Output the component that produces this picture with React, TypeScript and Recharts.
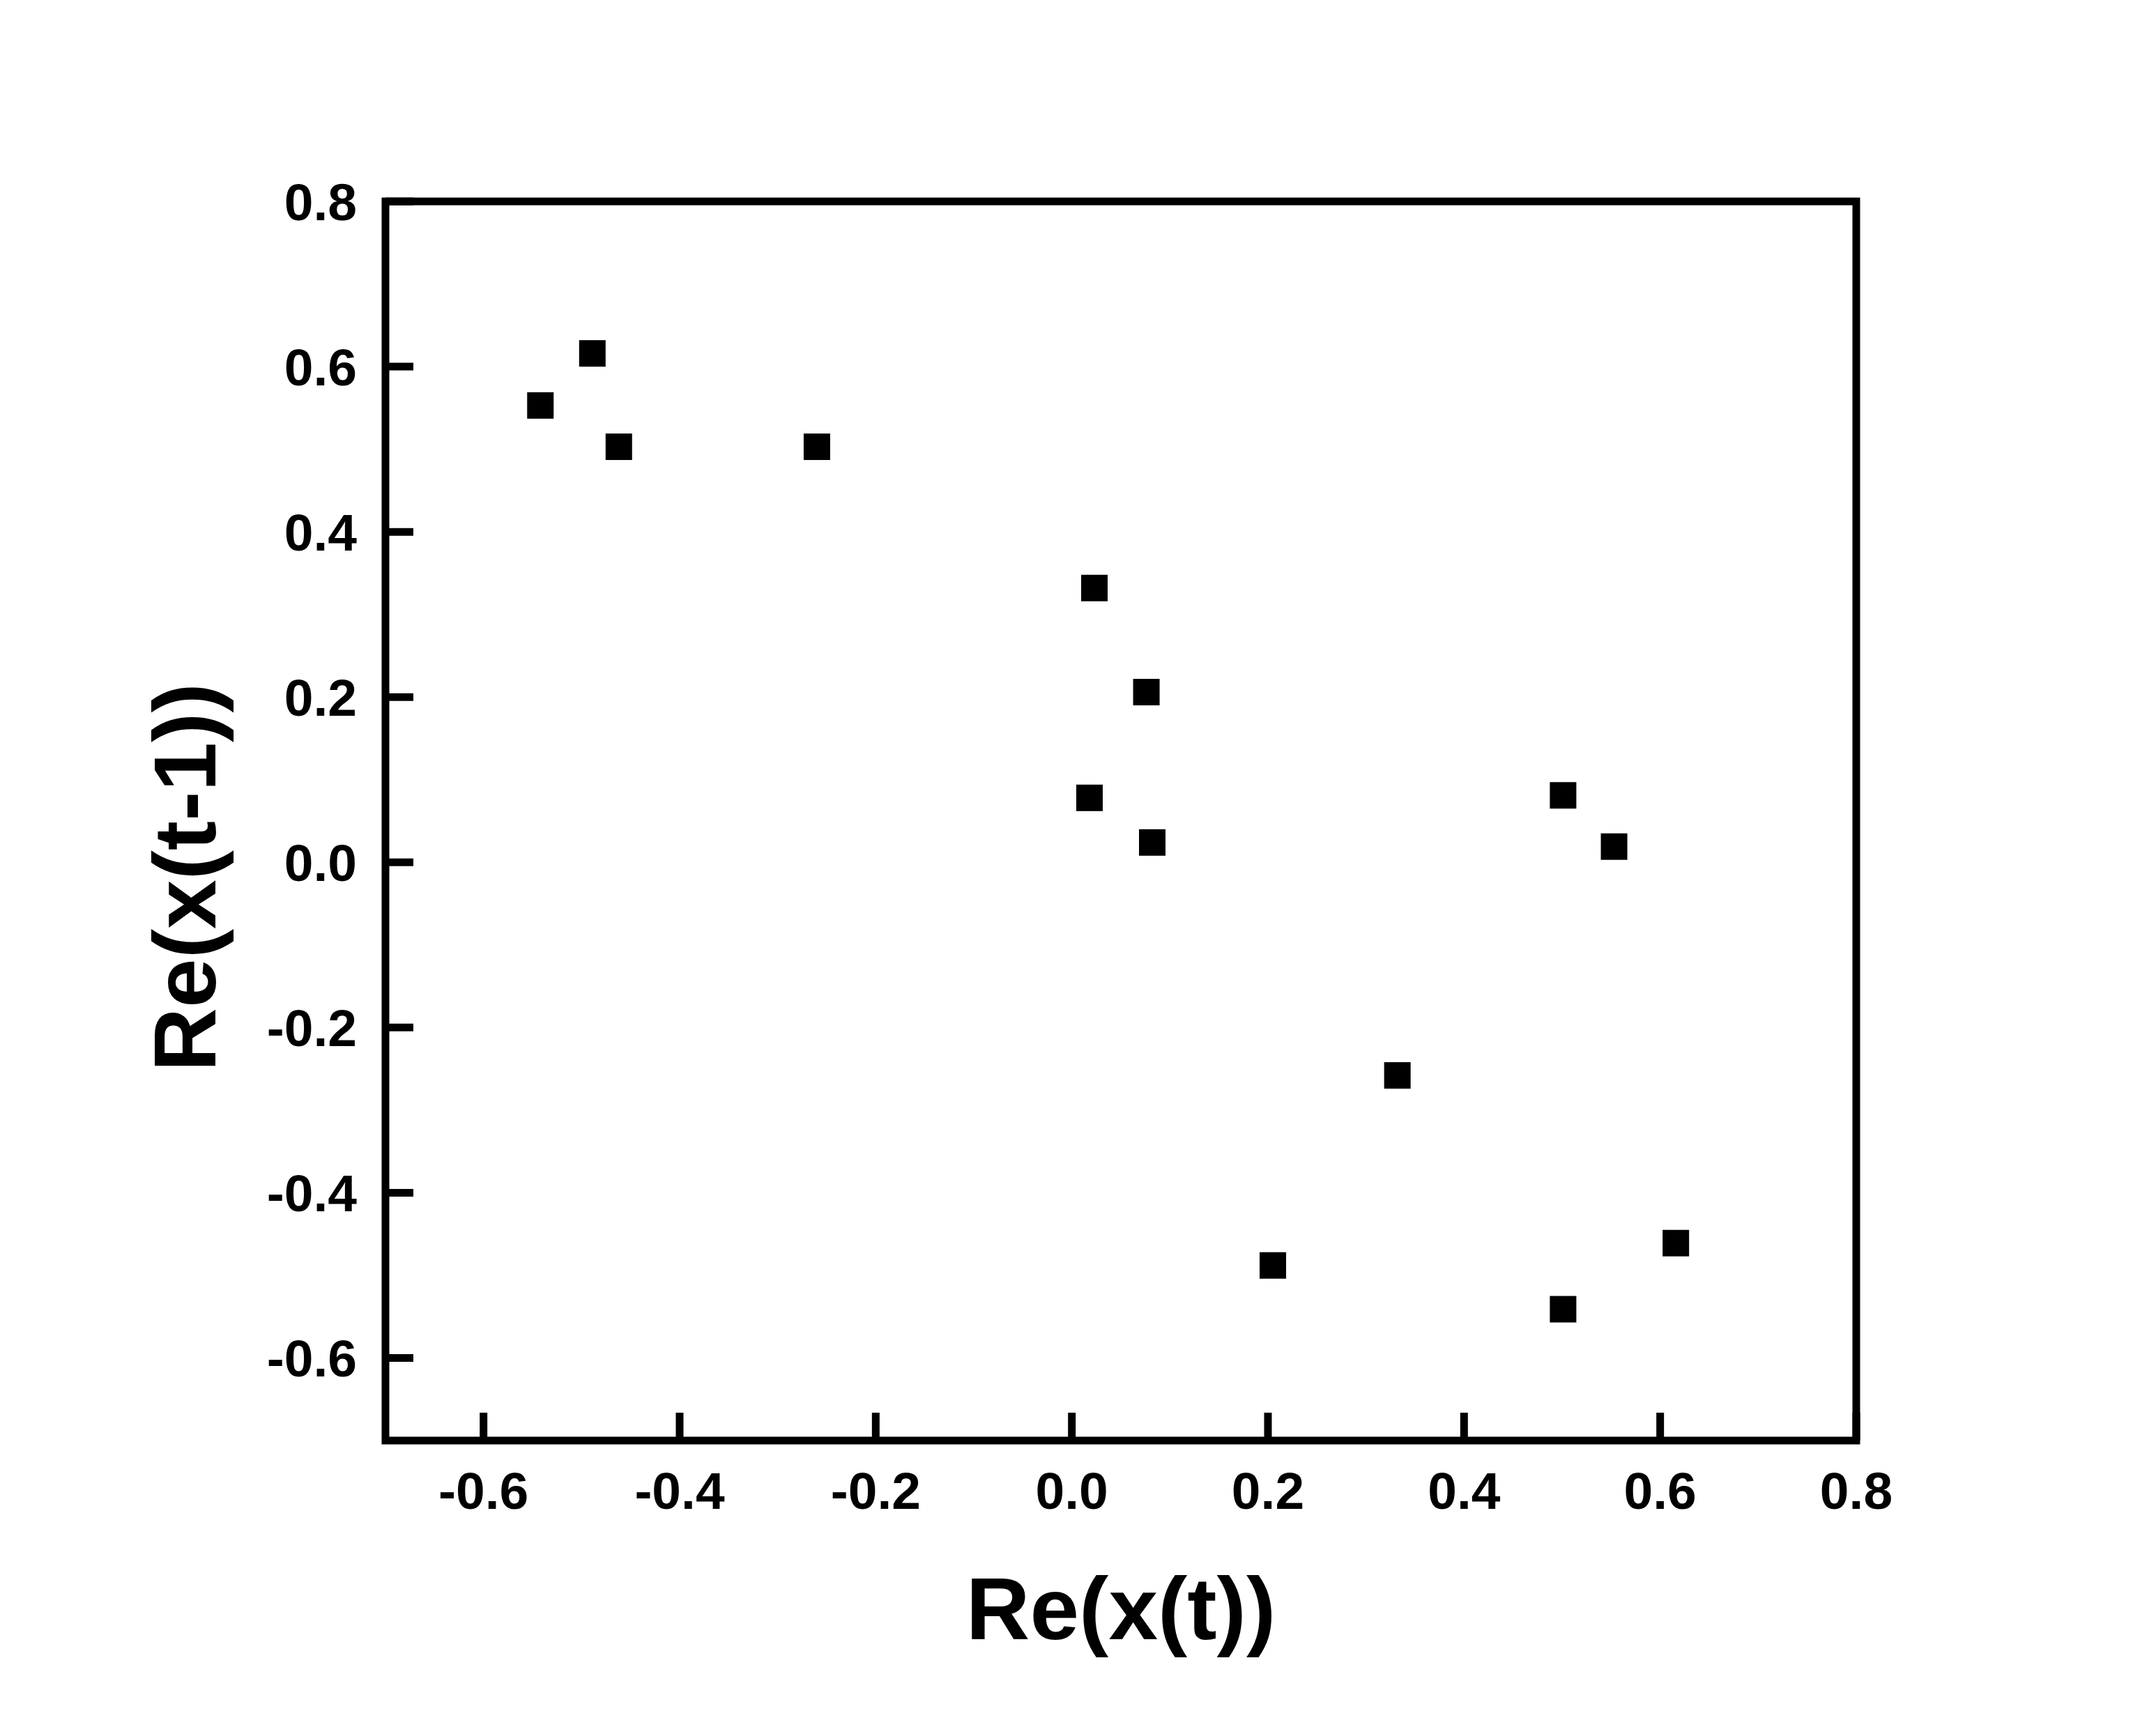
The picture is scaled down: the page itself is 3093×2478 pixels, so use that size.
import { ScatterChart, Scatter, XAxis, YAxis, ReferenceArea } from 'recharts';

// Re(x(t)) and Re(x(t-1))
const X_VALUES = [-0.542, -0.489, -0.462, -0.26, 0.023, 0.076, 0.018, 0.082, 0.501, 0.553, 0.332, 0.205, 0.501, 0.616];
const Y_VALUES = [0.553, 0.616, 0.503, 0.503, 0.332, 0.206, 0.078, 0.024, 0.081, 0.019, -0.258, -0.488, -0.541, -0.461];

const X_TICKS = [-0.6, -0.4, -0.2, 0, 0.2, 0.4, 0.6, 0.8];
const Y_TICKS = [-0.6, -0.4, -0.2, 0, 0.2, 0.4, 0.6, 0.8];
const DOMAIN: [number, number] = [-0.7, 0.8];

const data = X_VALUES.map((x, i) => ({ x, y: Y_VALUES[i] }));

const FONT = '"Liberation Sans", Arial, sans-serif';
const W = 3077;
const H = 2462;

const tickStyle = { fontSize: 75, fontWeight: 700, fill: '#000', fontFamily: FONT };

function XTitle(props: any) {
  const vb = props.viewBox;
  return (
    <text
      x={vb.x + vb.width / 2}
      y={vb.y + 285}
      textAnchor="middle"
      fontSize={127}
      fontWeight={700}
      fontFamily={FONT}
      fill="#000"
    >
      Re(x(t))
    </text>
  );
}

function YTitle(props: any) {
  const vb = props.viewBox;
  const x = vb.x + 56;
  const y = vb.y + vb.height / 2 + 81;
  return (
    <text
      x={x}
      y={y}
      transform={`rotate(-90, ${x}, ${y})`}
      textAnchor="middle"
      fontSize={127}
      fontWeight={700}
      fontFamily={FONT}
      fill="#000"
    >
      Re(x(t-1))
    </text>
  );
}

const Square = (props: any) => {
  const { cx, cy } = props;
  return <rect x={cx - 19} y={cy - 19} width={38} height={38} fill="#000" />;
};

export default function App() {
  return (
    <div style={{ width: W, height: H, background: '#fff' }}>
      <ScatterChart width={W} height={H} margin={{ top: 281, right: 422, bottom: 103, left: 245 }}>
        <XAxis
          type="number"
          dataKey="x"
          domain={DOMAIN}
          ticks={X_TICKS}
          allowDataOverflow
          height={300}
          axisLine={false}
          tickSize={-40}
          tickMargin={85}
          tickLine={{ stroke: '#000', strokeWidth: 11 }}
          tick={tickStyle}
          tickFormatter={(v: number) => v.toFixed(1)}
          label={<XTitle />}
        />
        <YAxis
          type="number"
          dataKey="y"
          domain={DOMAIN}
          ticks={Y_TICKS}
          allowDataOverflow
          width={300}
          axisLine={false}
          tickSize={-40}
          tickMargin={81}
          tickLine={{ stroke: '#000', strokeWidth: 11 }}
          tick={tickStyle}
          tickFormatter={(v: number) => v.toFixed(1)}
          label={<YTitle />}
        />
        <ReferenceArea
          x1={-0.7}
          x2={0.8}
          y1={-0.7}
          y2={0.8}
          fill="none"
          stroke="#000"
          strokeWidth={11}
          fillOpacity={0}
        />
        <Scatter data={data} shape={<Square />} isAnimationActive={false} />
      </ScatterChart>
    </div>
  );
}
